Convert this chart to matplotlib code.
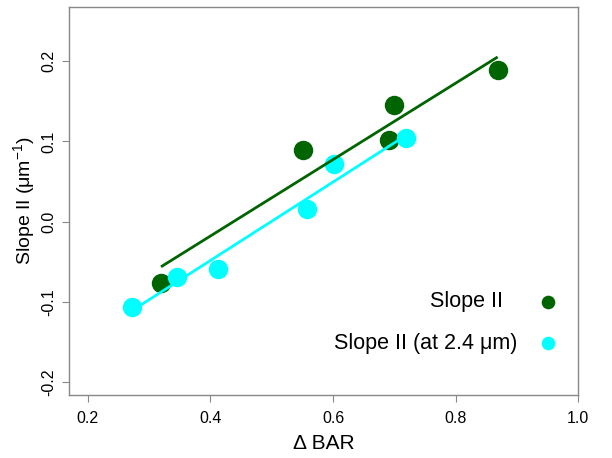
import numpy as np
import matplotlib
matplotlib.use("Agg")
import matplotlib.pyplot as plt
from matplotlib.lines import Line2D

plt.rcParams['font.family'] = ['Liberation Sans', 'DejaVu Sans']
plt.rcParams['mathtext.fontset'] = 'custom'
plt.rcParams['mathtext.rm'] = 'Liberation Sans'
plt.rcParams['mathtext.it'] = 'Liberation Sans:italic'

# Slope II vs change in BAR
bar_slope = [0.3195, 0.5515, 0.6994, 0.6918, 0.8685]
slope_ii = [-0.0769, 0.0894, 0.1455, 0.1018, 0.1891]

# Slope II evaluated at 2.4 um
bar_slope24 = [0.2727, 0.3451, 0.4129, 0.5571, 0.6021, 0.7190]
slope_ii24 = [-0.1061, -0.0687, -0.0587, 0.0158, 0.0715, 0.1040]

series_labels = ["Slope II", "Slope II (at 2.4 \u03bcm)"]
x_ticks = [0.2, 0.4, 0.6, 0.8, 1.0]
y_ticks = [-0.2, -0.1, 0.0, 0.1, 0.2]

GREEN = "#006400"
CYAN = "#00FFFF"
W, H = 612, 458

fig = plt.figure(figsize=(W / 100, H / 100), dpi=100)
ax = fig.add_axes([68.7 / W, 1 - 395.3 / H, (578.3 - 68.7) / W, (395.3 - 6.7) / H])

ax.plot(bar_slope, slope_ii, 'o', color=GREEN, markersize=14, markeredgewidth=0, zorder=2)
ax.plot(bar_slope24, slope_ii24, 'o', color=CYAN, markersize=14, markeredgewidth=0, zorder=3)

# least-squares fit lines over each series' x range
for xs, ys, c in [(bar_slope, slope_ii, GREEN), (bar_slope24, slope_ii24, CYAN)]:
    xs = np.asarray(xs); ys = np.asarray(ys)
    k, b = np.polyfit(xs, ys, 1)
    xx = np.array([xs.min(), xs.max()])
    ax.plot(xx, k * xx + b, '-', color=c, linewidth=2.0, zorder=4, solid_capstyle='butt')

ax.set_xlim(0.169, 1.0)
ax.set_ylim(-0.2166, 0.268)

ax.set_xticks(x_ticks)
ax.set_xticklabels([f"{t:.1f}" for t in x_ticks])
ax.set_yticks(y_ticks)
ax.set_yticklabels([f"{t:.1f}" for t in y_ticks], rotation=90, va='center')

ax.tick_params(axis='both', direction='out', length=5, width=0.8, color='#888888',
               labelsize=11.5, labelcolor='black')
ax.tick_params(axis='x', pad=6)
ax.tick_params(axis='y', pad=4)

for sp in ax.spines.values():
    sp.set_color('#888888')
    sp.set_linewidth(1.0)

ax.set_xlabel("\u0394 BAR", fontsize=15, labelpad=6)
ax.set_ylabel("Slope II (\u03bcm$^{-1}$)", fontsize=14, labelpad=3)

# key: right-justified text with a dot to its right
key_rows = [(series_labels[0], GREEN, 503, 302), (series_labels[1], CYAN, 517, 343)]
for label, c, x_right, y in key_rows:
    fig.text(x_right / W, 1 - y / H, label, ha='right', va='center', fontsize=15.5)
    fig.add_artist(Line2D([548 / W], [1 - y / H], marker='o', color=c,
                          markersize=9.8, markeredgewidth=0, linestyle='none',
                          transform=fig.transFigure))

fig.savefig("out.png", dpi=100)
